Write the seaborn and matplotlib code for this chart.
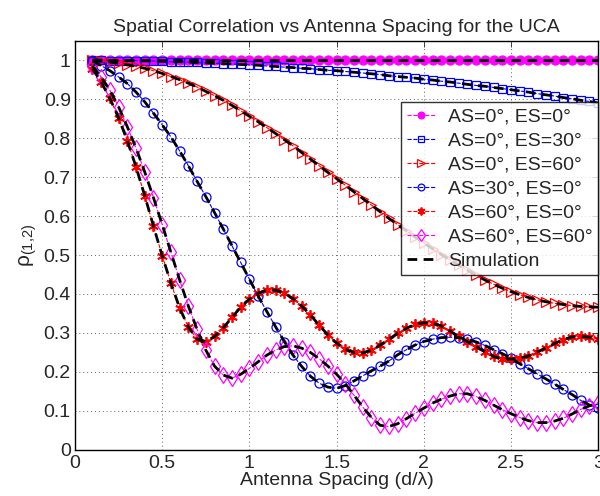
import numpy as np
import pandas as pd
import seaborn as sns
import matplotlib
matplotlib.use("Agg")
import matplotlib.pyplot as plt

# antenna spacing d/lambda, one marker every 0.05
spacing = np.round(np.arange(0.10, 3.0001, 0.05), 2)

as0_es0 = [1.0] * 59

as0_es30 = [1.000, 1.000, 0.999, 0.999, 0.999, 0.999, 0.998, 0.998, 0.997, 0.996,
            0.996, 0.995, 0.994, 0.993, 0.992, 0.991, 0.990, 0.989, 0.988, 0.987,
            0.985, 0.984, 0.982, 0.981, 0.979, 0.978, 0.976, 0.974, 0.973, 0.971,
            0.969, 0.967, 0.965, 0.963, 0.960, 0.958, 0.956, 0.954, 0.951, 0.949,
            0.946, 0.944, 0.941, 0.938, 0.935, 0.933, 0.930, 0.927, 0.924, 0.921,
            0.918, 0.914, 0.911, 0.908, 0.904, 0.901, 0.897, 0.894, 0.890]

as0_es60 = [1.000, 0.998, 0.995, 0.992, 0.988, 0.984, 0.979, 0.973, 0.966, 0.958,
            0.950, 0.941, 0.931, 0.920, 0.909, 0.897, 0.884, 0.870, 0.856, 0.842,
            0.827, 0.812, 0.796, 0.780, 0.763, 0.746, 0.729, 0.712, 0.696, 0.679,
            0.662, 0.645, 0.628, 0.611, 0.594, 0.578, 0.562, 0.546, 0.531, 0.516,
            0.501, 0.487, 0.474, 0.461, 0.448, 0.436, 0.425, 0.415, 0.406, 0.398,
            0.391, 0.385, 0.380, 0.376, 0.373, 0.370, 0.368, 0.367, 0.366]

as30_es0 = [0.998, 0.986, 0.973, 0.957, 0.940, 0.918, 0.893, 0.864, 0.834, 0.803,
            0.767, 0.729, 0.689, 0.650, 0.609, 0.567, 0.524, 0.481, 0.438, 0.395,
            0.355, 0.316, 0.278, 0.243, 0.214, 0.189, 0.171, 0.161, 0.158, 0.165,
            0.177, 0.190, 0.203, 0.215, 0.228, 0.244, 0.257, 0.269, 0.278, 0.284,
            0.288, 0.289, 0.288, 0.284, 0.277, 0.268, 0.257, 0.247, 0.235, 0.221,
            0.208, 0.195, 0.182, 0.169, 0.155, 0.142, 0.127, 0.115, 0.108]

as60_es0 = [0.978, 0.944, 0.902, 0.852, 0.793, 0.726, 0.652, 0.574, 0.498, 0.428,
            0.364, 0.315, 0.284, 0.278, 0.291, 0.313, 0.340, 0.366, 0.387, 0.402,
            0.410, 0.410, 0.403, 0.388, 0.369, 0.346, 0.320, 0.295, 0.274, 0.258,
            0.250, 0.249, 0.256, 0.269, 0.284, 0.299, 0.312, 0.322, 0.326, 0.325,
            0.318, 0.305, 0.291, 0.278, 0.265, 0.252, 0.240, 0.233, 0.233, 0.235,
            0.241, 0.251, 0.262, 0.273, 0.283, 0.290, 0.291, 0.289, 0.284]

as60_es60 = [0.985, 0.957, 0.923, 0.880, 0.829, 0.774, 0.713, 0.647, 0.578, 0.507,
             0.436, 0.369, 0.309, 0.256, 0.215, 0.192, 0.184, 0.194, 0.209, 0.226,
             0.243, 0.256, 0.265, 0.267, 0.261, 0.250, 0.234, 0.215, 0.194, 0.170,
             0.140, 0.110, 0.083, 0.063, 0.060, 0.067, 0.080, 0.094, 0.107, 0.120,
             0.130, 0.138, 0.144, 0.144, 0.137, 0.127, 0.115, 0.103, 0.093, 0.083,
             0.075, 0.070, 0.070, 0.074, 0.081, 0.092, 0.104, 0.113, 0.121]

labels = ["AS=0°, ES=0°", "AS=0°, ES=30°", "AS=0°, ES=60°",
          "AS=30°, ES=0°", "AS=60°, ES=0°", "AS=60°, ES=60°"]
series = [as0_es0, as0_es30, as0_es60, as30_es0, as60_es0, as60_es60]

styles = [
    dict(color="#ff00ff", marker="o", mfc="#ff00ff", ms=6.5, mew=0.9),
    dict(color="#0000ff", marker="s", mfc="none", ms=6, mew=0.9),
    dict(color="#ff0000", marker=">", mfc="none", ms=7, mew=0.9),
    dict(color="#0000ff", marker="o", mfc="none", ms=6.5, mew=0.9),
    dict(color="#ff0000", marker=(6, 2, 0), mfc="#ff0000", ms=7.5, mew=1.3),
    dict(color="#ff00ff", marker="d", mfc="none", ms=8, mew=0.9),
]

sns.set_style("white")
plt.rcParams["font.family"] = ["Liberation Sans", "DejaVu Sans"]
plt.rcParams["mathtext.fontset"] = "custom"
plt.rcParams["mathtext.rm"] = "Liberation Sans"
plt.rcParams["mathtext.it"] = "Liberation Sans"

fig, ax = plt.subplots(figsize=(6.0, 4.96), dpi=100)
fig.subplots_adjust(left=0.125, right=0.997, bottom=0.093, top=0.918)

for vals, lab, st in zip(series, labels, styles):
    sns.lineplot(x=spacing, y=vals, ax=ax, label=lab, color=st["color"],
                 linestyle="--", linewidth=0.8, marker=st["marker"],
                 markerfacecolor=st["mfc"], markeredgecolor=st["color"],
                 markersize=st["ms"], markeredgewidth=st["mew"])

# simulation curves drawn on top
for i, vals in enumerate(series):
    sns.lineplot(x=spacing, y=vals, ax=ax, color="black", linewidth=2.0,
                 label="Simulation" if i == 0 else None)
for line in ax.get_lines()[6:]:
    line.set_linestyle((0, (3.5, 2.3)))

ax.set_xlim(0, 3)
ax.set_ylim(0, 1.05)
ax.set_xticks(np.arange(0, 3.01, 0.5))
ax.set_xticklabels(["0", "0.5", "1", "1.5", "2", "2.5", "3"])
ax.set_yticks(np.arange(0, 1.01, 0.1))
ax.set_yticklabels(["0", "0.1", "0.2", "0.3", "0.4", "0.5", "0.6", "0.7", "0.8", "0.9", "1"])
ax.tick_params(axis="both", direction="in", top=True, right=True, labelsize=14,
               length=4, width=0.6)
ax.tick_params(axis="y", pad=3)
ax.tick_params(axis="x", pad=4)
ax.grid(True, linestyle=(0, (1, 3)), color="#666666", linewidth=0.7)
for sp in ax.spines.values():
    sp.set_color("black")
    sp.set_linewidth(1.0)

ax.set_title("Spatial Correlation vs Antenna Spacing for the UCA", fontsize=14, pad=6)
ax.set_xlabel("Antenna Spacing (d/λ)", fontsize=14, labelpad=0)
ax.set_ylabel("ρ$_{(1{,}2)}$", fontsize=15, labelpad=3)

leg = ax.legend(loc="upper right", bbox_to_anchor=(1.0, 0.85), borderaxespad=0,
                fontsize=14, frameon=True, fancybox=False, handlelength=1.5,
                labelspacing=0.33, borderpad=0.3, handletextpad=0.6, markerscale=0.75)
leg.get_frame().set_edgecolor("black")
leg.get_frame().set_linewidth(1.0)

fig.savefig("out.png", dpi=100)
